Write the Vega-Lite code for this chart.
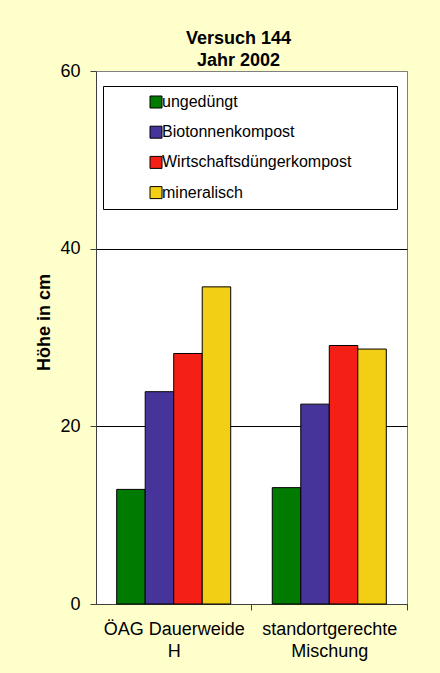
{
  "$schema": "https://vega.github.io/schema/vega-lite/v6.json",
  "autosize": {"type": "none"},
  "width": 311,
  "height": 533,
  "padding": {"left": 96, "top": 71, "right": 33, "bottom": 69},
  "background": "#FFFFCC",
  "title": {
    "text": ["Versuch 144", "Jahr 2002"],
    "font": "Liberation Sans",
    "fontSize": 18,
    "fontWeight": "bold",
    "color": "#000000",
    "anchor": "middle",
    "baseline": "alphabetic",
    "lineHeight": 22,
    "offset": -22,
    "dx": -13
  },
  "data": {
    "values": [
      {"Sorte": "ÖAG Dauerweide H", "Variante": "ungedüngt", "Hoehe": 12.9},
      {"Sorte": "ÖAG Dauerweide H", "Variante": "Biotonnenkompost", "Hoehe": 23.9},
      {"Sorte": "ÖAG Dauerweide H", "Variante": "Wirtschaftsdüngerkompost", "Hoehe": 28.2},
      {"Sorte": "ÖAG Dauerweide H", "Variante": "mineralisch", "Hoehe": 35.7},
      {"Sorte": "standortgerechte Mischung", "Variante": "ungedüngt", "Hoehe": 13.1},
      {"Sorte": "standortgerechte Mischung", "Variante": "Biotonnenkompost", "Hoehe": 22.5},
      {"Sorte": "standortgerechte Mischung", "Variante": "Wirtschaftsdüngerkompost", "Hoehe": 29.1},
      {"Sorte": "standortgerechte Mischung", "Variante": "mineralisch", "Hoehe": 28.7}
    ]
  },
  "mark": {"type": "bar", "stroke": "#000000", "strokeWidth": 1},
  "encoding": {
    "x": {
      "field": "Sorte",
      "type": "nominal",
      "sort": null,
      "scale": {"paddingInner": 0.267, "paddingOuter": 0.133},
      "axis": {
        "title": null,
        "labelAngle": 0,
        "labelExpr": "datum.value == 'ÖAG Dauerweide H' ? ['ÖAG Dauerweide', 'H'] : ['standortgerechte', 'Mischung']",
        "labelFont": "Liberation Sans",
        "labelFontSize": 18,
        "labelColor": "#000000",
        "labelLineHeight": 22,
        "labelPadding": 10,
        "labelLimit": 0,
        "tickOffset": 77.75,
        "labelOffset": -77.75,
        "tickSize": 6,
        "tickColor": "#404040",
        "domainColor": "#404040",
        "grid": false
      }
    },
    "xOffset": {
      "field": "Variante",
      "type": "nominal",
      "sort": ["ungedüngt", "Biotonnenkompost", "Wirtschaftsdüngerkompost", "mineralisch"],
      "scale": {"paddingInner": 0, "paddingOuter": 0}
    },
    "y": {
      "field": "Hoehe",
      "type": "quantitative",
      "scale": {"domain": [0, 60], "nice": false},
      "axis": {
        "title": "Höhe in cm",
        "titleFont": "Liberation Sans",
        "titleFontSize": 18,
        "titleFontWeight": "bold",
        "titleColor": "#000000",
        "titlePadding": 6,
        "titleY": 251,
        "values": [0, 20, 40, 60],
        "labelFont": "Liberation Sans",
        "labelFontSize": 18,
        "labelColor": "#000000",
        "labelPadding": 10,
        "tickSize": 6,
        "tickColor": "#404040",
        "domainColor": "#404040",
        "grid": true,
        "gridColor": {"condition": {"test": "datum.value == 60", "value": "#808080"}, "value": "#000000"},
        "gridOpacity": 1
      }
    },
    "color": {
      "field": "Variante",
      "type": "nominal",
      "scale": {
        "domain": ["ungedüngt", "Biotonnenkompost", "Wirtschaftsdüngerkompost", "mineralisch"],
        "range": ["#007A00", "#46349A", "#F52015", "#F2CE14"]
      },
      "legend": {
        "title": " ",
        "titleOrient": "right",
        "titleAngle": 0,
        "titlePadding": 38,
        "titleFontSize": 4,
        "orient": "none",
        "legendX": 7,
        "legendY": 15,
        "fillColor": "#FFFFFF",
        "strokeColor": "#000000",
        "padding": 8,
        "symbolType": "square",
        "symbolSize": 144,
        "symbolStrokeColor": "#000000",
        "symbolStrokeWidth": 1,
        "symbolOpacity": 1,
        "symbolOffset": 37,
        "labelFont": "Liberation Sans",
        "labelFontSize": 16,
        "labelColor": "#000000",
        "labelOffset": -2,
        "labelLimit": 0,
        "rowPadding": 14.2
      }
    }
  },
  "config": {
    "view": {"stroke": "#808080", "strokeWidth": 1, "fill": "#FFFFFF"},
    "axis": {"domainWidth": 1, "tickWidth": 1}
  }
}
